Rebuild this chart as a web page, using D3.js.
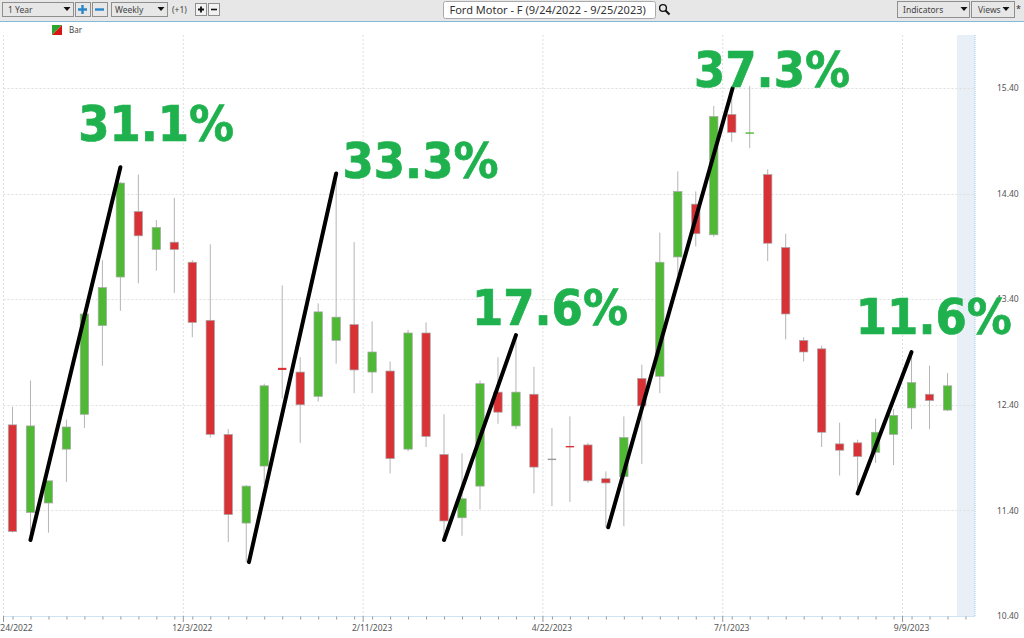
<!DOCTYPE html>
<html><head><meta charset="utf-8">
<script src="https://cdn.jsdelivr.net/npm/d3@7"></script>
<style>html,body{margin:0;padding:0;background:#fff;overflow:hidden}svg{display:block}
.ui{font-family:"Noto Sans",sans-serif;font-size:8.5px;fill:#444}
.pct{font-family:"DejaVu Sans Condensed","DejaVu Sans";font-stretch:condensed;font-weight:700;font-size:50px;fill:#20b14f;stroke:#20b14f;stroke-width:.7px}
</style></head><body><svg id="c" width="1024" height="638"></svg>
<script>
const highs=[12.38,12.63,11.68,12.26,13.26,13.77,14.51,14.58,14.15,14.36,13.77,13.92,12.17,11.64,12.60,13.53,12.85,13.36,14.60,13.94,13.19,12.81,13.11,13.18,12.31,11.94,12.63,12.85,13.06,12.76,12.18,12.29,12.04,11.77,12.29,12.78,14.03,14.61,14.42,15.23,15.40,15.42,14.63,14.02,13.04,12.96,12.23,12.07,12.27,12.36,12.90,12.77,12.70];
const lows=[11.19,11.12,11.19,11.67,12.18,12.77,13.29,13.55,13.67,13.46,13.04,12.09,11.10,10.91,11.65,12.46,12.04,12.43,12.79,12.51,12.51,11.75,11.96,12.00,11.12,11.16,11.41,12.22,12.17,11.56,11.44,11.48,11.66,11.24,11.25,11.84,12.51,13.63,13.90,13.99,14.89,14.83,13.76,13.02,12.81,12.00,11.73,11.57,11.85,11.83,12.17,12.17,12.34];
const opens=[12.21,11.38,11.47,11.98,12.31,13.15,13.61,14.23,13.87,13.94,13.75,13.20,12.12,11.28,11.82,12.75,12.71,12.48,13.01,13.16,12.71,12.72,11.98,13.08,11.93,11.33,11.63,12.52,12.20,12.50,11.89,12.01,12.02,11.70,11.72,12.65,12.67,13.80,14.30,14.01,15.15,14.97,14.58,13.89,13.01,12.93,12.03,12.04,11.95,12.12,12.37,12.50,12.35];
const closes=[11.20,12.20,11.68,12.19,13.26,13.51,14.50,14.00,14.08,13.87,13.18,12.12,11.36,11.63,12.58,12.73,12.40,13.28,13.23,12.73,12.90,11.89,13.08,12.10,11.30,11.51,12.60,12.33,12.52,11.81,11.89,12.00,11.68,11.66,12.09,12.39,13.75,14.42,14.02,15.13,14.98,14.98,13.93,13.26,12.90,12.14,11.97,11.91,12.14,12.30,12.61,12.44,12.58];
const priceTicks=[10.4,11.4,12.4,13.4,14.4,15.4];
const dateLabels=["9/24/2022","12/3/2022","2/11/2023","4/22/2023","7/1/2023","9/9/2023"];
const dateLabelBars=[0,10,20,30,40,50];
const trendFromBar=[1,13.15,24,33.13,47];
const trendFromPrice=[11.12,10.91,11.12,11.24,11.56];
const trendToBar=[6,18.0,28,40.05,50];
const trendToPrice=[14.65,14.59,13.06,15.40,12.90];
const gainLabels=["31.1%","33.3%","17.6%","37.3%","11.6%"];
const gainBar=[3.65,18.35,25.55,37.9,46.9];
const gainPrice=[14.90,14.55,13.16,15.41,13.07];

const svg=d3.select("#c");
const x=d3.scaleLinear().domain([0,52]).range([12.5,947.5]);
const y=d3.scaleLinear().domain([10.4,15.4]).range([616,88]);
const plotTop=35,plotBottom=616,plotRight=975,plotLeft=3.5;

// toolbar
svg.append("rect").attr("width",1024).attr("height",21).attr("fill","#e7e7e7");
svg.append("line").attr("x1",0).attr("x2",1024).attr("y1",21.5).attr("y2",21.5).attr("stroke","#86b8dc").attr("stroke-width",1);
function box(bx,by,w,h,fill,stroke){return svg.append("rect").attr("x",bx+.5).attr("y",by+.5).attr("width",w).attr("height",h).attr("fill",fill||"#e7e7e7").attr("stroke",stroke||"#8f8f8f");}
function label(t,lx,ly,size,fill){return svg.append("text").attr("class","ui").attr("x",lx).attr("y",ly).style("font-size",(size||8.5)+"px").style("fill",fill||"#444").text(t);}
function caret(cx,cy){svg.append("path").attr("d",`M${cx-3.5},${cy-2}h7l-3.5,4z`).attr("fill","#111");}
box(2,2,71,14); label("1 Year",8,13); caret(67,9);
box(75,2,15,14); box(92,2,15,14);
svg.append("path").attr("d","M78,9.5h9M82.5,5v9").attr("stroke","#2a86c8").attr("stroke-width",2.4);
svg.append("path").attr("d","M95,9.5h9").attr("stroke","#2a86c8").attr("stroke-width",2.4);
box(111,2,56,14); label("Weekly",115,13); caret(161,9);
label("(+1)",172,13);
box(195,3,11,12,"#f2f2f2"); box(208,3,11,12,"#f2f2f2");
svg.append("path").attr("d","M198,9.5h6M201,6.5v6").attr("stroke","#111").attr("stroke-width",1.8);
svg.append("path").attr("d","M211,9.5h6").attr("stroke","#111").attr("stroke-width",1.6);
svg.append("rect").attr("x",443.5).attr("y",1.5).attr("width",212).attr("height",17).attr("rx",2).attr("fill","#fff").attr("stroke","#aaa");
label("Ford Motor - F (9/24/2022 - 9/25/2023)",449.5,14,11,"#333");
svg.append("circle").attr("cx",663).attr("cy",8).attr("r",3.4).attr("fill","none").attr("stroke","#111").attr("stroke-width",1.4);
svg.append("line").attr("x1",665.5).attr("y1",10.5).attr("x2",669.5).attr("y2",14.5).attr("stroke","#111").attr("stroke-width",2);
box(897,1,72,16); label("Indicators",903,13); caret(964,9);
box(971,1,43,16); label("Views",978,13); caret(1006,9);
label("*",1016,12,9,"#333");

// legend
svg.append("path").attr("d","M52,35V25H62z").attr("fill","#2ea52e");
svg.append("path").attr("d","M62,25V35H52z").attr("fill","#d81414");
label("Bar",69,33,8);

// future band
svg.append("rect").attr("x",957).attr("y",plotTop).attr("width",plotRight-957).attr("height",plotBottom-plotTop).attr("fill","#e8eff7");
svg.append("line").attr("x1",plotRight).attr("x2",plotRight).attr("y1",plotTop).attr("y2",plotBottom).attr("stroke","#9cc6e6").attr("stroke-dasharray","1,1");

// grid
const grid="#dedede";
svg.append("g").selectAll("line").data(priceTicks.slice(1)).join("line")
 .attr("x1",plotLeft).attr("x2",plotRight).attr("y1",d=>Math.round(y(d))+.5).attr("y2",d=>Math.round(y(d))+.5)
 .attr("stroke",grid).attr("stroke-dasharray","2,2");
svg.append("g").selectAll("line").data(dateLabelBars).join("line")
 .attr("x1",d=>x(d-.5)).attr("x2",d=>x(d-.5)).attr("y1",plotTop).attr("y2",plotBottom)
 .attr("stroke",grid).attr("stroke-dasharray","2,2");

// axes
const barTicks=d3.range(0,54);
const xAxis=d3.axisBottom(x).tickValues(barTicks).tickSize(3).tickFormat("");
const gx=svg.append("g").attr("transform",`translate(0,${plotBottom+.5})`).call(xAxis);
gx.select(".domain").attr("stroke","#9cc6e6").attr("stroke-dasharray","1,1").attr("d",`M${plotLeft},0H${plotRight}`);
gx.selectAll(".tick line").attr("stroke","#999");
svg.append("g").selectAll("line").data(dateLabelBars).join("line")
 .attr("x1",d=>x(d-.5)).attr("x2",d=>x(d-.5)).attr("y1",plotBottom).attr("y2",plotBottom+6).attr("stroke","#999");
svg.append("g").selectAll("text").data(dateLabels).join("text").attr("class","ui")
 .attr("x",(d,i)=>x(dateLabelBars[i])).attr("y",631).attr("text-anchor","middle").style("fill","#555").text(d=>d);
const yAxis=d3.axisRight(y).tickValues(priceTicks).tickSize(0).tickFormat(d3.format(".2f"));
const gy=svg.append("g").attr("transform","translate(997,0)").call(yAxis);
gy.select(".domain").remove();
gy.selectAll("text").attr("x",0).attr("class","ui").style("fill","#555").style("font-size","8.5px");

// candles
const idx=d3.range(highs.length);
const col=i=>closes[i]>opens[i]?"#4fb935":closes[i]<opens[i]?"#d93236":"#999";
const bodyH=i=>Math.abs(y(opens[i])-y(closes[i]));
svg.append("g").selectAll("line").data(idx).join("line")
 .attr("x1",i=>x(i)).attr("x2",i=>x(i)).attr("y1",i=>y(highs[i])).attr("y2",i=>y(lows[i]))
 .attr("stroke","#b4b4b4").attr("stroke-width",1);
svg.append("g").selectAll("rect").data(idx).join("rect")
 .attr("x",i=>x(i)-4.2).attr("width",8.4)
 .attr("y",i=>y(Math.max(opens[i],closes[i])))
 .attr("height",i=>Math.max(1.4,bodyH(i)))
 .attr("fill",col).attr("stroke",i=>bodyH(i)<2.5?"none":"#a8a8a8").attr("stroke-width",.7);

// trend lines
svg.append("g").selectAll("line").data(gainLabels.map((d,i)=>i)).join("line")
 .attr("x1",i=>x(trendFromBar[i])).attr("y1",i=>y(trendFromPrice[i]))
 .attr("x2",i=>x(trendToBar[i])).attr("y2",i=>y(trendToPrice[i]))
 .attr("stroke","#000").attr("stroke-width",4).attr("stroke-linecap","round");

// percentage labels
svg.append("g").selectAll("text").data(gainLabels).join("text").attr("class","pct")
 .attr("x",(d,i)=>x(gainBar[i])).attr("y",(d,i)=>y(gainPrice[i])).text(d=>d);
</script></body></html>
